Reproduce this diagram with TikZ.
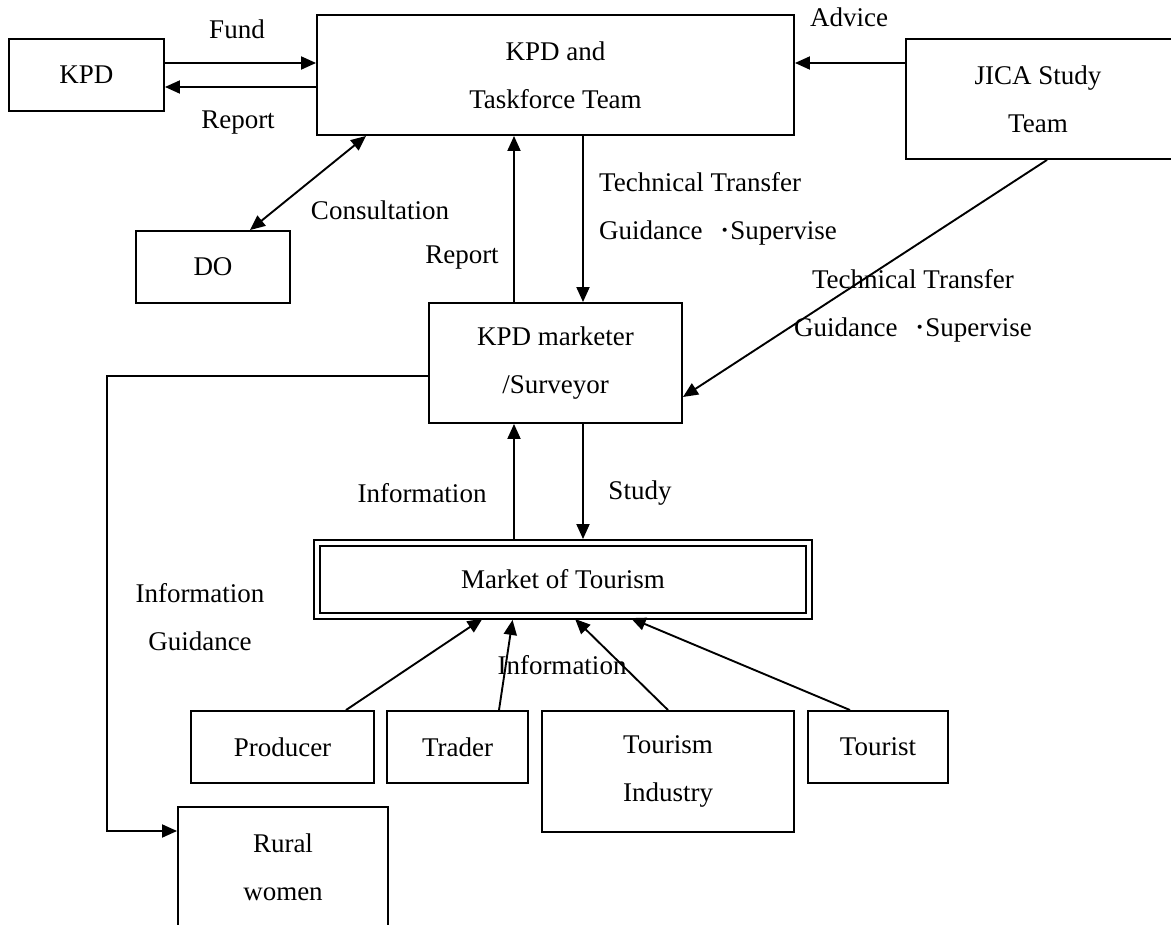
\documentclass[tikz,border=0pt]{standalone}
\usepackage{fontspec}
\setmainfont{Liberation Serif}
\usetikzlibrary{arrows.meta,calc}
\newcommand{\mdotsep}{\hspace{16.5pt}\raisebox{-2pt}{\fontsize{34}{48}\selectfont ·}}
\begin{document}
\begin{tikzpicture}[x=1pt,y=-1pt,
  font=\fontsize{27}{48}\selectfont,
  box/.style={draw, line width=1.9pt, inner sep=0pt, align=center},
  lbl/.style={inner sep=0pt, align=center},
  arr/.style={-{Triangle[length=15pt,width=13pt]}, line width=1.9pt},
  darr/.style={{Triangle[length=15pt,width=13pt]}-{Triangle[length=15pt,width=13pt]}, line width=1.9pt}]
\useasboundingbox (0,0) rectangle (1171,925);
\clip (0,0) rectangle (1171,925);
% boxes
\node[box, minimum width=155pt, minimum height=72pt] (kpd) at (86.5,75) {KPD};
\node[box, minimum width=477pt, minimum height=120pt] (team) at (555.5,75) {KPD and\\Taskforce Team};
\node[box, minimum width=334pt, minimum height=120pt] (jica) at (1073,99) {};
\node[lbl] (jicat) at (1038,99) {JICA Study\\Team};
\node[box, minimum width=154pt, minimum height=72pt] (do) at (213,267) {DO};
\node[box, minimum width=253pt, minimum height=120pt] (mkr) at (555.5,363) {KPD marketer\\/Surveyor};
\node[box, double, double distance=4pt, minimum width=492pt, minimum height=73pt] (market) at (563,579.5) {Market of Tourism};
\node[box, minimum width=183pt, minimum height=72pt] (producer) at (282.5,747) {Producer};
\node[box, minimum width=141pt, minimum height=72pt] (trader) at (457.5,747) {Trader};
\node[box, minimum width=252pt, minimum height=121pt] (tind) at (668,771.5) {Tourism\\Industry};
\node[box, minimum width=140pt, minimum height=72pt] (tourist) at (878,747) {Tourist};
\node[box, minimum width=210pt, minimum height=160pt] (rural) at (283,887) {};
\node[lbl] (ruralt) at (283,867.5) {Rural\\women};
% labels
\node[lbl] (lfund) at (237,29) {Fund};
\node[lbl] (lrep1) at (238,123) {Report};
\node[lbl] (ladv) at (849,17) {Advice};
\node[lbl] (lcons) at (380,210) {Consultation};
\node[lbl] (lrep2) at (462,258) {Report};
\node[lbl, anchor=west, align=left] (ltt1) at (599,209) {Technical Transfer\\Guidance\mdotsep Supervise};
\node[lbl] (ltt2) at (913,306) {Technical Transfer\\Guidance\mdotsep Supervise};
\node[lbl] (linf1) at (422,493) {Information};
\node[lbl] (lstudy) at (640,493) {Study};
\node[lbl] (linf2) at (200,617.5) {Information\\Guidance};
\node[lbl] (linf3) at (562,665) {Information};
% connectors
\draw[arr] ([yshift=12pt]kpd.east) -- ([yshift=12pt]kpd.east -| team.west);
\draw[arr] ([yshift=-12pt]team.west) -- ([yshift=-12pt]team.west -| kpd.east);
\draw[arr] ([yshift=36pt]jica.west) -- ([yshift=36pt]jica.west -| team.east);
\draw[darr] ([xshift=37pt]do.north) -- ([xshift=50pt]team.south west);
\draw[arr] ([xshift=-41.5pt]mkr.north) -- ([xshift=-41.5pt]mkr.north |- team.south);
\draw[arr] ([xshift=27.5pt]team.south -| mkr.north) -- ([xshift=27.5pt]mkr.north);
\draw[arr] ([xshift=-26pt]jica.south) -- ([yshift=-34pt]mkr.east);
\coordinate (elbow) at (107,831);
\draw[arr] ([yshift=-13pt]mkr.west) -| (elbow) -- (elbow -| rural.west);
\draw[arr, shorten <=3pt] ([xshift=-41.5pt]mkr.south |- market.north) -- ([xshift=-41.5pt]mkr.south);
\draw[arr, shorten >=3pt] ([xshift=27.5pt]mkr.south) -- ([xshift=27.5pt]mkr.south |- market.north);
\draw[arr, shorten >=3pt] ([xshift=63.5pt]producer.north) -- ([xshift=-78pt]market.south);
\draw[arr, shorten >=3pt] ([xshift=41.5pt]trader.north) -- ([xshift=-50pt]market.south);
\draw[arr, shorten >=3pt] (tind.north) -- ([xshift=10pt]market.south);
\draw[arr, shorten >=3pt] ([xshift=-28pt]tourist.north) -- ([xshift=65pt]market.south);
\end{tikzpicture}
\end{document}
